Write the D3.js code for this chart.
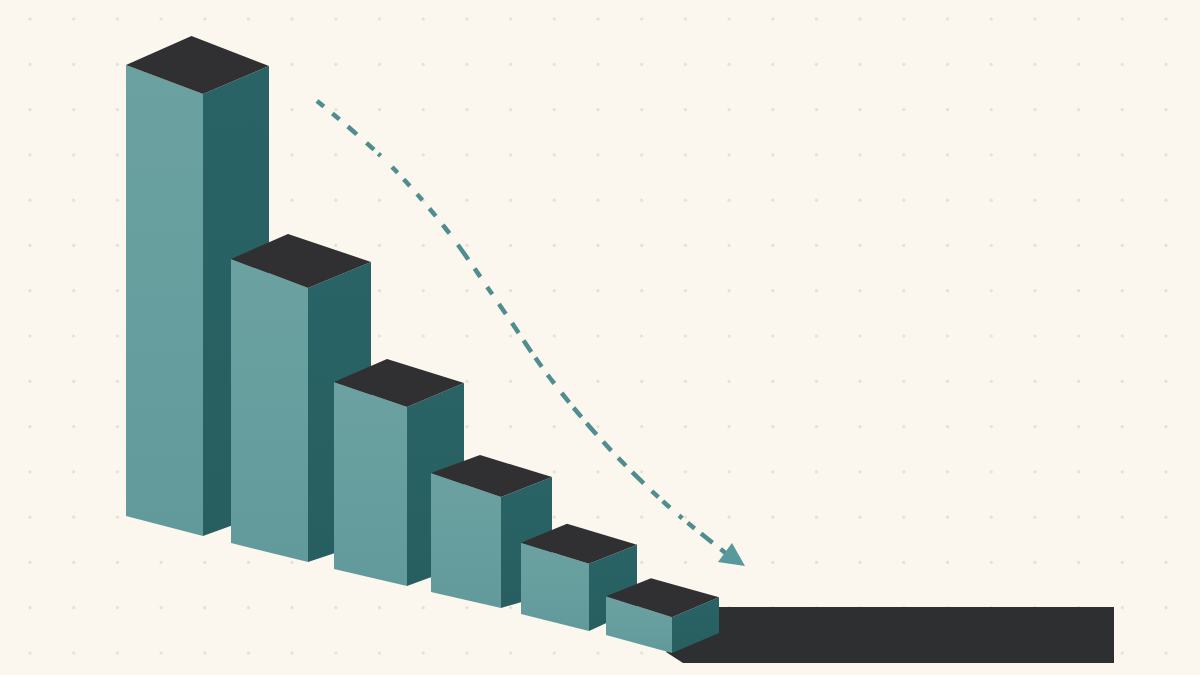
<!DOCTYPE html>
<html>
<head>
<meta charset="utf-8">
<script src="https://cdn.jsdelivr.net/npm/d3@7"></script>
<style>
  html, body { margin: 0; padding: 0; background: #fbf6ee; }
  svg { display: block; }
</style>
</head>
<body>
<script>
'use strict';

// the picture has no labels, so the bars are only numbered
const categories = ['b1', 'b2', 'b3', 'b4', 'b5', 'b6'];
// height of each bar, tallest = 100
const values = [100, 62, 40.5, 25.1, 15.2, 8.1];
// the falling trend line
const trendX = [317, 353, 395, 446, 501, 550, 607, 667, 723, 732];
const trendY = [101, 131, 170, 229, 307, 378, 446, 505, 551, 558];

const imgW = 1200,
      imgH = 675,
      colors = {
        bg: '#fbf6ee', dot: '#e5e1d7', top: '#303032', floor: '#2e2f31',
        leftA: '#6ba1a1', leftB: '#629a9b', rightA: '#2a6365', rightB: '#275f61',
        dash: '#4f8d8e', head: '#589a9b'
      },
      // the bars are not a true projection, each one has its own box shape
      shape = (range) => d3.scaleOrdinal().domain(categories).range(range),
      frontX = shape([203, 308, 407, 501, 589, 672]),
      baseY = shape([536, 562, 586, 608, 631, 653]),
      leftW = shape([77, 77, 73, 70, 68, 66]),
      rightW = shape([66, 63, 57, 51, 48, 47]),
      topLeftRise = shape([29, 29, 25, 24, 21, 21]),
      topRightRise = shape([28, 26, 24, 20, 19, 20]),
      backX = shape([191.5, 288, 387, 480, 567, 651]),
      backRise = shape([58, 54, 48, 42, 40, 39]),
      baseLeftRise = shape([20, 19, 17, 16, 17, 18]),
      baseRightRise = shape([24, 21, 21, 15, 22, 20]),
      h = d3.scaleLinear().domain([0, 100]).range([0, 442]),
      poly = d3.line().curve(d3.curveLinearClosed);

const svg = d3.select(document.body).append('svg')
    .attr('xmlns', 'http://www.w3.org/2000/svg')
    .attr('width', imgW)
    .attr('height', imgH)
    .style('background-color', colors.bg);

// gradients for the two lit faces
const defs = svg.append('defs');
function gradient(id, a, b, x2, y2) {
  const g = defs.append('linearGradient').attr('id', id)
      .attr('x1', 0).attr('y1', 0).attr('x2', x2).attr('y2', y2);
  g.append('stop').attr('offset', 0).attr('stop-color', a);
  g.append('stop').attr('offset', 1).attr('stop-color', b);
}
gradient('leftFace', colors.leftA, colors.leftB, 0, 1);
gradient('rightFace', colors.rightA, colors.rightB, 0, 1);

// background dot grid
const dotX = d3.scaleLinear().domain([0, 26]).range([30, 1166]),
      dotY = d3.scaleLinear().domain([0, 14]).range([19, 653]);
svg.append('g').selectAll('circle')
    .data(d3.cross(d3.range(27), d3.range(15)))
    .join('circle')
    .attr('cx', d => dotX(d[0]))
    .attr('cy', d => dotY(d[1]))
    .attr('r', 1.6)
    .attr('fill', colors.dot);

// long dark slab behind the last bar
svg.append('path')
    .attr('d', poly([[700, 607], [1114, 607], [1114, 663], [683, 663], [666, 652]]))
    .attr('fill', colors.floor);

// bars, left to right so the next one covers the last
const data = categories.map((c, i) => ({ c, v: values[i] }));
const bars = svg.append('g').selectAll('g')
    .data(data)
    .join('g');

bars.append('path')
    .attr('fill', 'url(#leftFace)')
    .attr('d', d => {
      const x = frontX(d.c), b = baseY(d.c), t = b - h(d.v), l = x - leftW(d.c);
      return poly([[l, t - topLeftRise(d.c)], [x, t], [x, b], [l, b - baseLeftRise(d.c)]]);
    });

bars.append('path')
    .attr('fill', 'url(#rightFace)')
    .attr('d', d => {
      const x = frontX(d.c), b = baseY(d.c), t = b - h(d.v), r = x + rightW(d.c);
      return poly([[x, t], [r, t - topRightRise(d.c)], [r, b - baseRightRise(d.c)], [x, b]]);
    });

bars.append('path')
    .attr('fill', colors.top)
    .attr('d', d => {
      const x = frontX(d.c), t = baseY(d.c) - h(d.v);
      return poly([
        [x - leftW(d.c), t - topLeftRise(d.c)],
        [backX(d.c), t - backRise(d.c)],
        [x + rightW(d.c), t - topRightRise(d.c)],
        [x, t]
      ]);
    });

// trend line, the dashes in the picture are uneven
const dashes = [9, 11, 9, 11, 12, 13, 10, 6, 3, 16, 8, 9, 9, 11, 8, 11, 10, 11, 11, 14,
  18, 11, 10, 12, 9, 12, 12, 11, 12, 9, 14, 7, 11, 10, 11, 12, 12, 7, 12, 8, 15, 10, 12, 10,
  11, 9, 16, 11, 9, 6, 10, 12, 4, 7, 9, 8, 15, 10, 9, 300];

svg.append('path')
    .datum(trendX.map((x, i) => [x, trendY[i]]))
    .attr('d', d3.line().curve(d3.curveCatmullRom.alpha(0.5)))
    .attr('fill', 'none')
    .attr('stroke', colors.dash)
    .attr('stroke-width', 4.5)
    .attr('stroke-dasharray', dashes.join(' '));

// arrow head
svg.append('path')
    .attr('d', poly([[732, 543], [745, 566], [718, 562]]))
    .attr('fill', colors.head);
</script>
</body>
</html>
